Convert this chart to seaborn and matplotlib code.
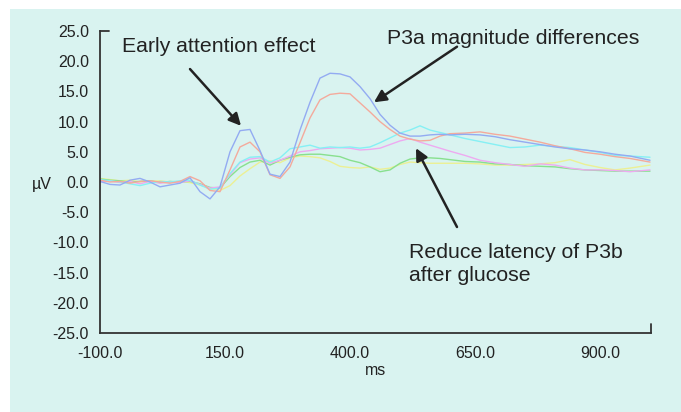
import matplotlib
matplotlib.use("Agg")
import matplotlib.pyplot as plt
import seaborn as sns
import pandas as pd
from matplotlib.patches import Rectangle

time_ms = [-100, -80, -60, -40, -20, 0, 20, 40, 60, 80, 100, 120, 140, 160, 180, 200,
           220, 240, 260, 280, 300, 320, 340, 360, 380, 400, 420, 440, 460, 480, 500,
           520, 540, 560, 580, 600, 630, 660, 690, 720, 750, 780, 810, 840, 870, 900,
           930, 960, 1000]

blue = [0.1, -0.4, -0.5, 0.3, 0.6, 0.0, -0.8, -0.5, -0.2, 0.7, -1.6, -2.8, -0.8, 5.0,
        8.5, 8.7, 5.2, 1.3, 0.9, 3.3, 8.6, 13.2, 17.2, 18.0, 17.9, 17.4, 15.8, 13.8,
        11.2, 9.4, 8.1, 7.6, 7.6, 7.8, 7.9, 7.8, 7.9, 7.8, 7.5, 7.0, 6.6, 6.2, 5.8,
        5.5, 5.3, 5.0, 4.6, 4.3, 3.6]
red = [0.3, 0.0, 0.1, -0.2, 0.1, 0.2, 0.0, -0.2, 0.1, 0.9, 0.2, -1.4, -1.6, 2.0, 5.8,
       6.6, 5.0, 1.2, 0.6, 2.5, 6.5, 10.6, 13.6, 14.5, 14.7, 14.6, 13.1, 11.6, 10.0,
       8.7, 7.6, 7.1, 6.8, 6.9, 7.6, 8.0, 8.1, 8.3, 7.9, 7.6, 7.1, 6.6, 6.0, 5.5, 4.9,
       4.6, 4.2, 3.9, 3.3]
cyan = [0.4, 0.2, 0.0, -0.3, -0.6, -0.2, 0.1, 0.0, 0.2, 0.3, -0.5, -1.2, -1.0, 1.4,
        3.3, 4.1, 4.2, 3.3, 4.0, 5.5, 5.8, 6.1, 5.6, 5.8, 5.7, 5.8, 5.6, 5.8, 6.5, 7.3,
        8.1, 8.6, 9.3, 8.6, 8.2, 7.8, 7.2, 6.7, 6.2, 5.7, 5.8, 6.1, 5.9, 5.7, 5.3, 4.9,
        4.4, 4.3, 4.1]
pink = [0.0, 0.2, -0.1, 0.1, -0.3, 0.1, -0.2, 0.0, -0.1, 0.2, -0.4, -1.0, -0.8, 1.2,
        3.2, 3.8, 4.0, 3.1, 3.6, 4.3, 5.0, 5.2, 5.5, 5.6, 5.7, 5.6, 5.3, 5.4, 5.6, 6.2,
        6.8, 7.2, 6.6, 6.1, 5.6, 5.1, 4.4, 3.6, 3.2, 2.9, 2.6, 3.0, 2.8, 2.3, 2.0, 2.0,
        1.9, 1.7, 2.0]
green = [0.5, 0.3, 0.2, 0.0, 0.1, 0.2, -0.1, 0.1, 0.0, 0.1, -0.3, -0.9, -1.0, 0.9,
         2.4, 3.3, 3.6, 2.8, 3.6, 4.1, 4.5, 4.6, 4.6, 4.4, 4.2, 3.6, 3.2, 2.5, 1.7,
         2.0, 3.1, 3.8, 4.0, 4.0, 3.9, 3.7, 3.4, 3.3, 3.0, 2.9, 2.7, 2.6, 2.5, 2.2,
         2.0, 1.9, 1.8, 1.8, 1.8]
yellow = [0.6, 0.4, 0.2, 0.3, 0.0, 0.1, 0.2, 0.0, 0.1, -0.1, -0.5, -1.0, -1.4, -0.6,
          1.0, 2.2, 3.3, 3.5, 3.2, 4.0, 4.3, 4.2, 4.0, 3.4, 2.6, 2.4, 2.3, 2.5, 2.1,
          2.3, 2.9, 3.3, 3.2, 3.1, 3.1, 3.1, 3.1, 3.0, 2.8, 2.8, 2.9, 3.0, 3.2, 3.7,
          2.9, 2.4, 2.0, 2.3, 2.8]

series_names = ["blue", "red", "cyan", "pink", "green", "yellow"]
series_values = [blue, red, cyan, pink, green, yellow]
palette = {"blue": "#93abf2", "red": "#f4aa9c", "cyan": "#86f0f4",
           "pink": "#eeaaf0", "green": "#88e08e", "yellow": "#ecf094"}

y_ticks = [25, 20, 15, 10, 5, 0, -5, -10, -15, -20, -25]
x_ticks = [-100, 150, 400, 650, 900]

rows = []
for name, vals in zip(series_names, series_values):
    for t, v in zip(time_ms, vals):
        rows.append({"time": t, "uv": v, "series": name})
df = pd.DataFrame(rows)

sns.set_theme(style="white")
plt.rcParams["font.family"] = ["Liberation Sans", "DejaVu Sans"]

fig = plt.figure(figsize=(6.81, 4.12), dpi=100, facecolor="white")
bg = "#d9f3f0"
fig.patches.append(Rectangle((10 / 681, 0), 1, 1 - 9 / 412, transform=fig.transFigure,
                             facecolor=bg, edgecolor="none", zorder=-10))
ax = fig.add_axes([100 / 681, 1 - 333 / 412, 551 / 681, 302 / 412])
ax.set_facecolor("none")
ax.set_zorder(5)

sns.lineplot(data=df, x="time", y="uv", hue="series", palette=palette,
             hue_order=series_names[::-1], linewidth=1.0, ax=ax, legend=False)

ax.set_xlim(-100, 1002)
ax.set_ylim(-25, 25)
ax.set_xticks(x_ticks)
ax.set_xticklabels([f"{v:.1f}" for v in x_ticks])
ax.set_yticks(y_ticks)
ax.set_yticklabels([f"{v:.1f}" for v in y_ticks])
ax.tick_params(axis="both", labelsize=11.5, colors="white", labelcolor="#222222",
               length=3, width=1)
ax.tick_params(axis="y", pad=5)
ax.tick_params(axis="x", pad=6)
for lbl in ax.get_yticklabels():
    lbl.set_va("center_baseline")
for s in ["top", "right"]:
    ax.spines[s].set_visible(False)
for s in ["left", "bottom"]:
    ax.spines[s].set_color("#333333")
    ax.spines[s].set_linewidth(1.3)
# end caps of the axes
ax.plot([0, 0.016], [1, 1], transform=ax.transAxes, color="#333333", lw=1.3, clip_on=False)
ax.plot([1, 1], [0, 0.03], transform=ax.transAxes, color="#333333", lw=1.3, clip_on=False)

ax.set_xlabel("ms", fontsize=11.5, color="#222222", labelpad=2)
ax.set_ylabel("")
fig.text(42 / 681, 1 - 185 / 412, "µV", fontsize=11.5, color="#222222",
         ha="center", va="center")

arrow = dict(arrowstyle="-|>", color="#222222", lw=1.8, mutation_scale=18,
             shrinkA=0, shrinkB=0)
ax.annotate("", xy=(182, 9.3), xytext=(80, 18.7), arrowprops=arrow)
ax.annotate("", xy=(448, 13.2), xytext=(614, 22.4), arrowprops=arrow)
ax.annotate("", xy=(532, 5.6), xytext=(614, -7.45), arrowprops=arrow)

ax.text(138, 22.5, "Early attention effect", fontsize=15.3, color="#222222",
        ha="center", va="center")
ax.text(726, 23.7, "P3a magnitude differences", fontsize=15.3, color="#222222",
        ha="center", va="center")
ax.text(518, -13.6, "Reduce latency of P3b\nafter glucose", fontsize=15.3,
        color="#222222", ha="left", va="center", linespacing=1.25)

fig.savefig("out.png", dpi=100, facecolor="white")
